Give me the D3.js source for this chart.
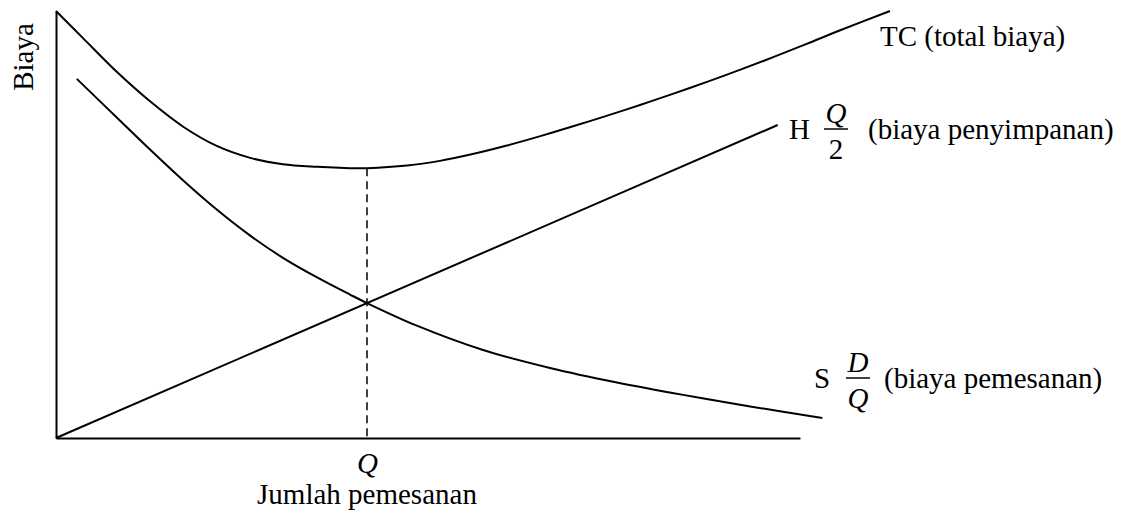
<!DOCTYPE html>
<html>
<head>
<meta charset="utf-8">
<script src="https://cdn.jsdelivr.net/npm/d3@7"></script>
<style>
  body { margin: 0; background: #fff; }
  text { font-family: "Liberation Serif", "Times New Roman", serif; fill: #000; }
</style>
</head>
<body>
<svg id="chart"></svg>
<script>
// data (order quantity vs cost)
const tcQ = [0, 3.6, 8.2, 12.6, 17.1, 21.6, 26.1, 30.5, 35.1, 39.5, 41.8, 47.2, 51.6, 56.0, 60.6, 65.1, 69.5, 74.1, 78.5, 82.9, 87.5, 91.9, 96.4, 100.9, 105.4, 112.1];
const tcCost = [100, 93.7, 85.7, 78.9, 72.9, 68.4, 65.6, 64.1, 63.5, 63.2, 63.2, 63.8, 64.9, 66.5, 68.5, 70.7, 73.0, 75.5, 78.0, 80.6, 83.4, 86.2, 89.2, 92.3, 95.5, 100];
const holdQ = [0, 97];
const holdCost = [0, 73.3];
const orderQ = [2.8, 8.2, 12.6, 17.1, 21.6, 26.1, 30.5, 35.1, 39.5, 41.8, 48.5, 57.4, 66.4, 75.4, 84.3, 93.3, 103];
const orderCost = [84.1, 75.0, 67.6, 60.3, 53.5, 47.4, 42.2, 37.6, 33.6, 31.6, 26.3, 20.6, 16.4, 13.0, 10.1, 7.4, 4.7];
const qStar = 41.8;
const qStarCost = 63.2;

const width = 1138, height = 513;
const margin = { top: 11, right: 338, bottom: 75, left: 56 };
const fs = 29;

const svg = d3.select("#chart")
    .attr("width", width)
    .attr("height", height);

const x = d3.scaleLinear().domain([0, 100]).range([margin.left, width - margin.right]);
const y = d3.scaleLinear().domain([0, 100]).range([height - margin.bottom, margin.top]);

const line = d3.line()
    .x(d => x(d[0]))
    .y(d => y(d[1]))
    .curve(d3.curveCatmullRom.alpha(0.5));

// axes
svg.append("g")
    .attr("transform", `translate(0, ${y(0)})`)
    .call(d3.axisBottom(x).tickValues([qStar]).tickSize(0).tickSizeOuter(0).tickPadding(14).tickFormat(() => "Q"))
    .call(g => g.select(".domain").attr("stroke-width", 2))
    .call(g => g.selectAll(".tick text")
        .attr("font-family", "Liberation Serif")
        .attr("font-style", "italic")
        .attr("font-size", fs));

svg.append("g")
    .attr("transform", `translate(${x(0)}, 0)`)
    .call(d3.axisLeft(y).tickValues([]).tickSizeOuter(0))
    .call(g => g.select(".domain").attr("stroke-width", 2));

// curves
const curves = [
    d3.zip(tcQ, tcCost),
    d3.zip(holdQ, holdCost),
    d3.zip(orderQ, orderCost)
];
svg.selectAll(".curve")
    .data(curves)
    .enter().append("path")
    .attr("class", "curve")
    .attr("d", line)
    .attr("fill", "none")
    .attr("stroke", "#000")
    .attr("stroke-width", 2);

// dashed line at optimal Q
svg.append("line")
    .attr("x1", x(qStar)).attr("x2", x(qStar))
    .attr("y1", y(qStarCost)).attr("y2", y(0))
    .attr("stroke", "#000")
    .attr("stroke-width", 1.5)
    .attr("stroke-dasharray", "8,5");

// axis titles
svg.append("text")
    .attr("x", x(qStar))
    .attr("y", 504)
    .attr("text-anchor", "middle")
    .attr("font-size", fs)
    .text("Jumlah pemesanan");

svg.append("text")
    .attr("transform", "translate(33, 57) rotate(-90)")
    .attr("text-anchor", "middle")
    .attr("font-size", fs)
    .text("Biaya");

// curve labels
svg.append("text")
    .attr("x", 880).attr("y", 46)
    .attr("font-size", fs)
    .text("TC (total biaya)");

function fracLabel(lead, num, den, tail, lx, base, fx, tx) {
    const g = svg.append("g");
    g.append("text").attr("x", lx).attr("y", base).attr("font-size", fs).text(lead);
    g.append("text").attr("x", fx).attr("y", base - 16).attr("text-anchor", "middle")
        .attr("font-size", fs).attr("font-style", num === "2" ? "normal" : "italic").text(num);
    g.append("line").attr("x1", fx - 12).attr("x2", fx + 12)
        .attr("y1", base - 10).attr("y2", base - 10)
        .attr("stroke", "#000").attr("stroke-width", 1.5);
    g.append("text").attr("x", fx).attr("y", base + 20).attr("text-anchor", "middle")
        .attr("font-size", fs).attr("font-style", den === "2" ? "normal" : "italic").text(den);
    g.append("text").attr("x", tx).attr("y", base).attr("font-size", fs).text(tail);
}

fracLabel("H", "Q", "2", "(biaya penyimpanan)", 789, 139, 836, 868);
fracLabel("S", "D", "Q", "(biaya pemesanan)", 814, 388, 858, 884);
</script>
</body>
</html>
